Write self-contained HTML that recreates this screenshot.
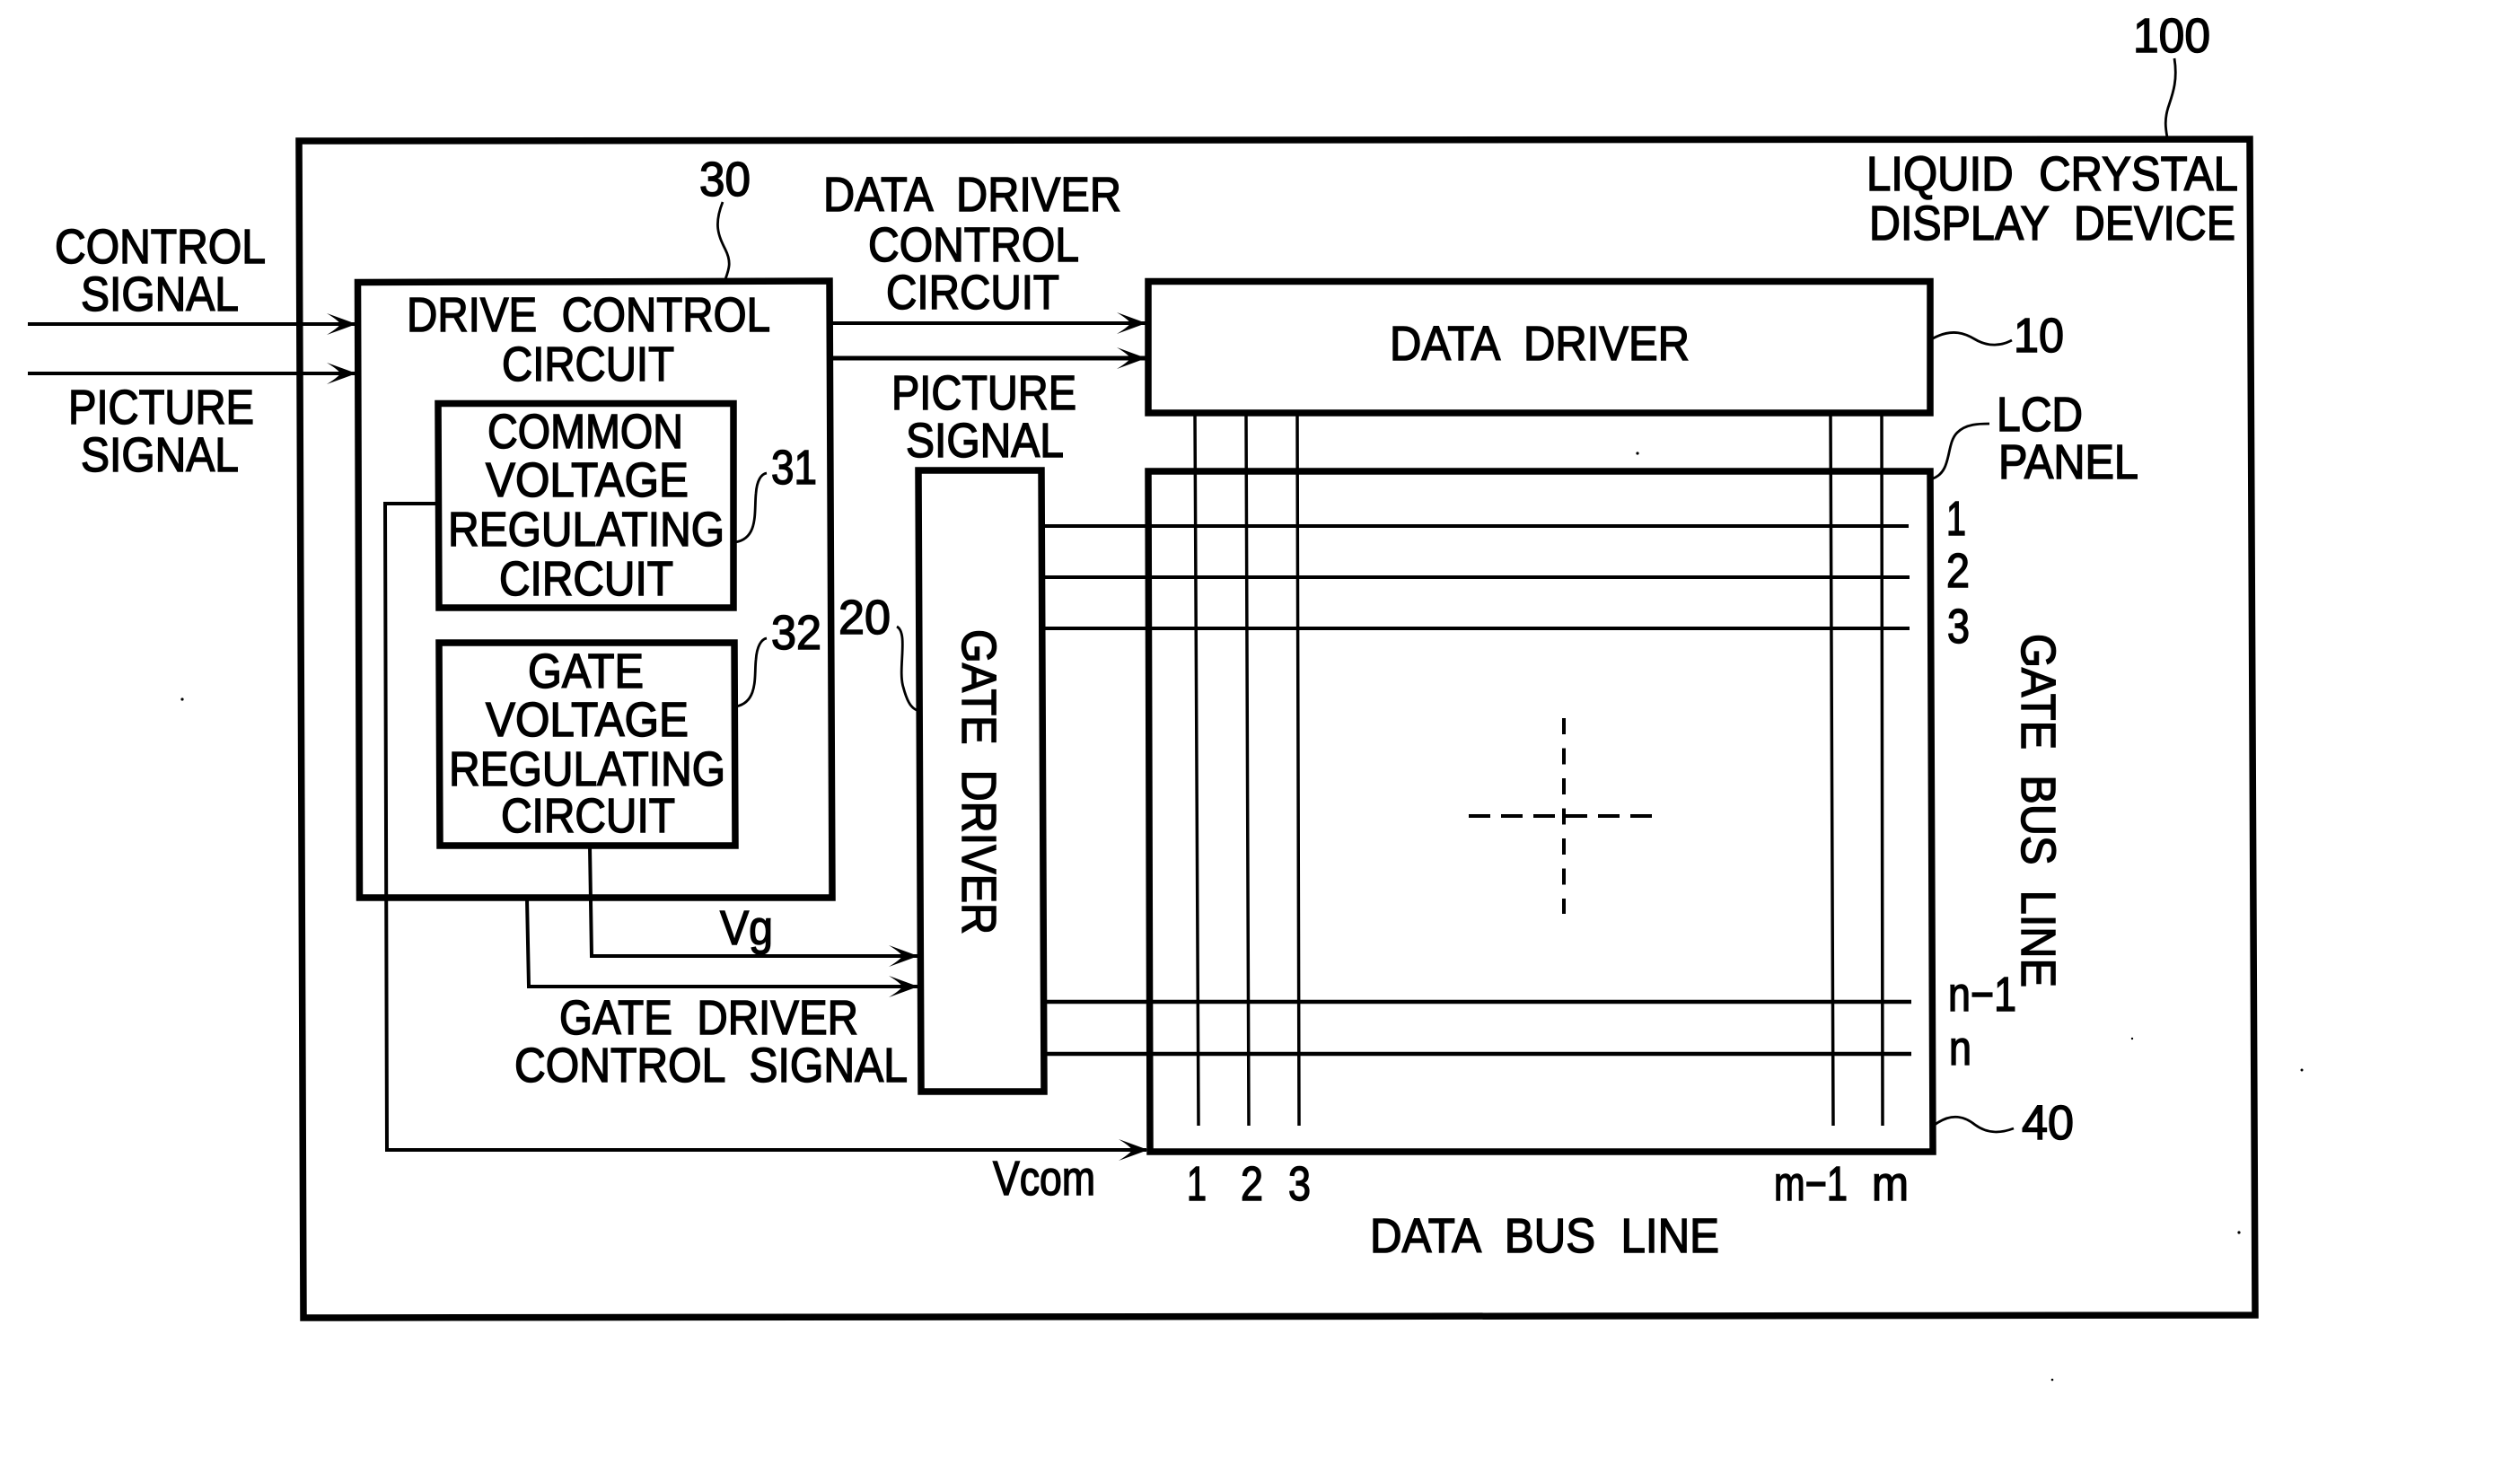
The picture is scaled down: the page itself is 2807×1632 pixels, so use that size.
<!DOCTYPE html>
<html><head><meta charset="utf-8"><style>
html,body{margin:0;padding:0;background:#fff}
svg{display:block}
text{font-family:"Liberation Sans",sans-serif;font-size:54px;fill:#000;stroke:#000;stroke-width:1.5px;word-spacing:.3em}
.b{fill:none;stroke:#000;stroke-width:7.5;stroke-linejoin:miter}
.l{fill:none;stroke:#000;stroke-width:3.5}
.m{fill:none;stroke:#000;stroke-width:4}
.c{fill:none;stroke:#000;stroke-width:2.8}
.h{fill:#000}
</style></head><body>
<svg xmlns="http://www.w3.org/2000/svg" width="2807" height="1632" viewBox="0 0 2807 1632">
<rect width="2807" height="1632" fill="#fff"/>
<!-- boxes -->
<polygon class="b" points="333,157 2506,155 2512,1465 338,1468"/>
<polygon class="b" points="398.5,314.5 924,313 927,1000 400.5,1000"/>
<polygon class="b" points="488,449.5 817,449.5 817,677 489,677"/>
<polygon class="b" points="489,716 818,716 819,942 490,942"/>
<polygon class="b" points="1023,524 1160,524 1163,1216 1026,1216"/>
<polygon class="b" points="1279,313.5 2150,313.5 2150,460 1279,460"/>
<polygon class="b" points="1279,525 2150,525 2153,1283 1281,1283"/>
<!-- bus lines -->
<path class="l" d="M1331,460L1335,1254M1388,460L1391,1254M1445,460L1447,1254M2039,460L2042,1254M2096,460L2097,1254"/>
<path class="m" d="M1162,586H2126M1162,643H2127M1162,700H2127"/>
<path class="m" style="stroke-width:4.5" d="M1164,1116H2129M1164,1174H2129"/>
<!-- dashed cross -->
<path class="l" style="stroke-width:4" stroke-dasharray="18 15.5" d="M1742,800V1018"/>
<path class="m" stroke-dasharray="24 12" d="M1636,909H1849"/>
<!-- connectors -->
<path class="m" d="M31,361H396M31,416H396"/>
<path class="m" d="M927,360H1276"/>
<path class="m" style="stroke-width:5" d="M927,399H1276"/>
<path class="m" d="M657,943L659,1065H1022"/>
<path class="m" d="M587,1001L589,1099H1022"/>
<path class="m" d="M487,561H429L431,1281H1277"/>
<!-- arrowheads -->
<g class="h">
<path d="M0,0L-33,-12Q-20,-4 -18,0Q-20,4 -33,12Z" transform="translate(397,361)"/>
<path d="M0,0L-33,-12Q-20,-4 -18,0Q-20,4 -33,12Z" transform="translate(397,416)"/>
<path d="M0,0L-33,-12Q-20,-4 -18,0Q-20,4 -33,12Z" transform="translate(1277,360)"/>
<path d="M0,0L-33,-12Q-20,-4 -18,0Q-20,4 -33,12Z" transform="translate(1277,399)"/>
<path d="M0,0L-33,-12Q-20,-4 -18,0Q-20,4 -33,12Z" transform="translate(1023,1065)"/>
<path d="M0,0L-33,-12Q-20,-4 -18,0Q-20,4 -33,12Z" transform="translate(1023,1099)"/>
<path d="M0,0L-33,-12Q-20,-4 -18,0Q-20,4 -33,12Z" transform="translate(1279,1281)"/>
</g>
<!-- leaders -->
<path class="c" d="M805,225C795,250 800,262 808,278C815,292 812,300 808,311"/>
<path class="c" d="M2422,65C2426,90 2420,105 2415,120C2411,133 2412,142 2414,153"/>
<path class="c" d="M819,604C845,600 840,570 842,550C843,535 848,528 854,527"/>
<path class="c" d="M820,787C845,782 840,752 842,735C843,720 848,712 854,711"/>
<path class="c" d="M999,698C1012,705 1000,745 1006,765C1010,780 1014,788 1021,791"/>
<path class="c" d="M2153,377C2175,365 2190,372 2200,378C2215,387 2230,385 2241,379"/>
<path class="c" d="M2153,533C2175,525 2167,495 2180,482C2190,472 2205,472 2216,472"/>
<path class="c" d="M2155,1253C2175,1238 2190,1245 2200,1253C2215,1264 2230,1262 2243,1257"/>
<!-- specks -->
<g class="h">
<circle cx="203" cy="779" r="1.6"/><circle cx="1824" cy="505" r="1.6"/><circle cx="2494" cy="1373" r="1.6"/>
<circle cx="2286" cy="1537" r="1.3"/><circle cx="2564" cy="1192" r="1.5"/><circle cx="2375" cy="1157" r="1.2"/>
</g>
<!-- labels -->
<text x="61" y="293" textLength="235" lengthAdjust="spacingAndGlyphs">CONTROL</text>
<text x="90" y="346" textLength="176" lengthAdjust="spacingAndGlyphs">SIGNAL</text>
<text x="76" y="472" textLength="207" lengthAdjust="spacingAndGlyphs">PICTURE</text>
<text x="90" y="525" textLength="176" lengthAdjust="spacingAndGlyphs">SIGNAL</text>
<text x="779" y="218" textLength="57" lengthAdjust="spacingAndGlyphs">30</text>
<text x="917" y="235" textLength="332" lengthAdjust="spacingAndGlyphs">DATA DRIVER</text>
<text x="967" y="291" textLength="235" lengthAdjust="spacingAndGlyphs">CONTROL</text>
<text x="987" y="344" textLength="193" lengthAdjust="spacingAndGlyphs">CIRCUIT</text>
<text x="453" y="369" textLength="405" lengthAdjust="spacingAndGlyphs">DRIVE CONTROL</text>
<text x="559" y="424" textLength="192" lengthAdjust="spacingAndGlyphs">CIRCUIT</text>
<text x="993" y="456" textLength="206" lengthAdjust="spacingAndGlyphs">PICTURE</text>
<text x="1009" y="509" textLength="176" lengthAdjust="spacingAndGlyphs">SIGNAL</text>
<text x="543" y="499" textLength="218" lengthAdjust="spacingAndGlyphs">COMMON</text>
<text x="541" y="553" textLength="226" lengthAdjust="spacingAndGlyphs">VOLTAGE</text>
<text x="499" y="608" textLength="308" lengthAdjust="spacingAndGlyphs">REGULATING</text>
<text x="556" y="663" textLength="194" lengthAdjust="spacingAndGlyphs">CIRCUIT</text>
<text x="859" y="539" textLength="51" lengthAdjust="spacingAndGlyphs">31</text>
<text x="859" y="723" textLength="56" lengthAdjust="spacingAndGlyphs">32</text>
<text x="934" y="706" textLength="58" lengthAdjust="spacingAndGlyphs">20</text>
<text x="588" y="766" textLength="129" lengthAdjust="spacingAndGlyphs">GATE</text>
<text x="541" y="820" textLength="226" lengthAdjust="spacingAndGlyphs">VOLTAGE</text>
<text x="500" y="875" textLength="308" lengthAdjust="spacingAndGlyphs">REGULATING</text>
<text x="558" y="927" textLength="194" lengthAdjust="spacingAndGlyphs">CIRCUIT</text>
<text x="802" y="1052" textLength="59" lengthAdjust="spacingAndGlyphs">Vg</text>
<text x="623" y="1152" textLength="333" lengthAdjust="spacingAndGlyphs">GATE DRIVER</text>
<text x="573" y="1205" textLength="438" lengthAdjust="spacingAndGlyphs">CONTROL SIGNAL</text>
<text x="1106" y="1331" textLength="114" lengthAdjust="spacingAndGlyphs">Vcom</text>
<text x="2376" y="58" textLength="86" lengthAdjust="spacingAndGlyphs">100</text>
<text x="2079" y="212" textLength="414" lengthAdjust="spacingAndGlyphs">LIQUID CRYSTAL</text>
<text x="2082" y="267" textLength="408" lengthAdjust="spacingAndGlyphs">DISPLAY DEVICE</text>
<text x="1548" y="401" textLength="334" lengthAdjust="spacingAndGlyphs">DATA DRIVER</text>
<text x="2243" y="392" textLength="56" lengthAdjust="spacingAndGlyphs">10</text>
<text x="2224" y="480" textLength="96" lengthAdjust="spacingAndGlyphs">LCD</text>
<text x="2226" y="533" textLength="156" lengthAdjust="spacingAndGlyphs">PANEL</text>
<text x="2168" y="596" textLength="22" lengthAdjust="spacingAndGlyphs">1</text>
<text x="2168" y="654" textLength="26" lengthAdjust="spacingAndGlyphs">2</text>
<text x="2169" y="716" textLength="25" lengthAdjust="spacingAndGlyphs">3</text>
<text x="2170" y="1126" textLength="76" lengthAdjust="spacingAndGlyphs">n−1</text>
<text x="2171" y="1186" textLength="25" lengthAdjust="spacingAndGlyphs">n</text>
<text x="2252" y="1269" textLength="58" lengthAdjust="spacingAndGlyphs">40</text>
<text x="1322" y="1337" textLength="22" lengthAdjust="spacingAndGlyphs">1</text>
<text x="1382" y="1337" textLength="25" lengthAdjust="spacingAndGlyphs">2</text>
<text x="1435" y="1337" textLength="25" lengthAdjust="spacingAndGlyphs">3</text>
<text x="1976" y="1337" textLength="82" lengthAdjust="spacingAndGlyphs">m−1</text>
<text x="2085" y="1337" textLength="41" lengthAdjust="spacingAndGlyphs">m</text>
<text x="1526" y="1395" textLength="389" lengthAdjust="spacingAndGlyphs">DATA BUS LINE</text>
<text transform="translate(1072,701) rotate(90)" textLength="340" lengthAdjust="spacingAndGlyphs">GATE DRIVER</text>
<text transform="translate(2252,706) rotate(90)" textLength="394" lengthAdjust="spacingAndGlyphs">GATE BUS LINE</text>
</svg>
</body></html>
